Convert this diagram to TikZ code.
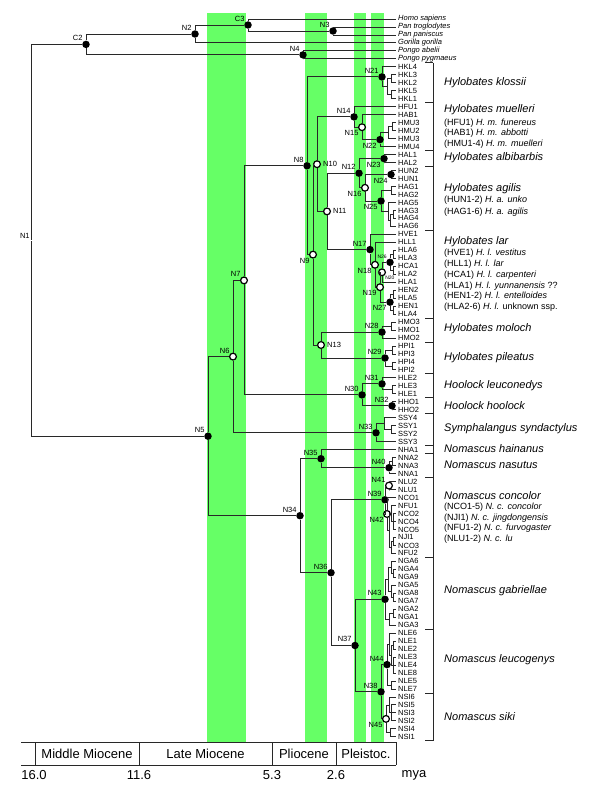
\documentclass[tikz,border=0pt]{standalone}
\usepackage{fontspec}
\setmainfont{Liberation Sans}
\usetikzlibrary{positioning}
\definecolor{epochgreen}{RGB}{102,255,102}
\definecolor{branchgray}{RGB}{40,40,40}

\begin{document}
\begin{tikzpicture}[
  x=1pt, y=-1pt, label distance=0pt,
  branch/.style={draw=branchgray, line width=0.9pt},
  fdot/.style={circle, fill=black, inner sep=0pt, minimum size=7.5pt},
  odot/.style={circle, draw=black, fill=white, line width=1.2pt, inner sep=0pt, minimum size=6.8pt},
  nlab/.style={font=\fontsize{7.5}{7.5}\selectfont, inner sep=0.5pt},
  slab/.style={font=\fontsize{5}{5}\selectfont, inner sep=0.3pt},
  tip/.style={anchor=west, inner sep=2pt, font=\fontsize{7.5}{8}\selectfont},
  ptip/.style={tip, font=\fontsize{7.5}{8}\selectfont\itshape},
  sptext/.style={anchor=west, inner sep=0pt, font=\fontsize{11}{12}\selectfont\itshape},
  ssptext/.style={anchor=west, inner sep=0pt, font=\fontsize{9}{10}\selectfont},
  epoch/.style={font=\fontsize{13}{14}\selectfont}
]
\useasboundingbox (0,0) rectangle (600,800);

\foreach \a/\b in {207/246, 305/327, 354/366, 371/384}
  \fill[epochgreen] (\a,13) rectangle (\b,742);

\foreach \lab [count=\i from 0] in {Homo sapiens, Pan troglodytes, Pan paniscus, Gorilla gorilla, Pongo abelii, Pongo pygmaeus}
  \node[ptip] (t\i) at (396,{19+7.976*\i}) {\lab};
\foreach \lab [count=\i from 6] in {HKL4,HKL3,HKL2,HKL5,HKL1,HFU1,HAB1,HMU3,HMU2,HMU3,HMU4,HAL1,HAL2,HUN2,HUN1,HAG1,HAG2,HAG5,HAG3,HAG4,HAG6,HVE1,HLL1,HLA6,HLA3,HCA1,HLA2,HLA1,HEN2,HLA5,HEN1,HLA4,HMO3,HMO1,HMO2,HPI1,HPI3,HPI4,HPI2,HLE2,HLE3,HLE1,HHO1,HHO2,SSY4,SSY1,SSY2,SSY3,NHA1,NNA2,NNA3,NNA1,NLU2,NLU1,NCO1,NFU1,NCO2,NCO4,NCO5,NJI1,NCO3,NFU2,NGA6,NGA4,NGA9,NGA5,NGA8,NGA7,NGA2,NGA1,NGA3,NLE6,NLE1,NLE2,NLE3,NLE4,NLE8,NLE5,NLE7,NSI6,NSI5,NSI3,NSI2,NSI4,NSI1}
  \node[tip] (t\i) at (396,{19+7.976*\i}) {\lab};

\node[inner sep=0pt, label={[nlab]above left:N1}] (N1) at (31,240.3) {};
\foreach \n/\x/\y in {C2/86/44.4, N2/195/34, C3/248/25, N3/333/31, N4/303/54.9, N5/208/436.2, N8/307/165.8, N21/382/76.9, N14/354/116.9, N12/359/173.2, N17/370/249.6, N28/382/332.1, N29/385/358, N30/362/394.9, N31/382/383.9, N32/392/405.8, N33/376/432.8, N34/300/515.7, N35/321/458.7, N40/389/467.7, N36/331/572.7, N39/385/499.8, N37/355/645.5, N43/385/599.3, N38/381/691.8, N44/387/664.6}
  \node[fdot, label={[nlab]above left:\n}] (\n) at (\x,\y) {};
\foreach \n/\x/\y in {N22/380/139.6, N23/384/158.6, N24/391/174.5, N25/381/201}
  \node[fdot, label={[nlab]below left:\n}] (\n) at (\x,\y) {};
\node[fdot, label={[nlab]below left:N27}] (N27) at (390,302.2) {};
\foreach \n/\x/\y in {N6/233/356.6, N7/244/280.4, N41/389/485.6}
  \node[odot, label={[nlab]above left:\n}] (\n) at (\x,\y) {};
\foreach \n/\x/\y in {N9/313/254.6, N15/362/127.2, N16/365/187.8, N18/375/264.8, N19/380/287.2, N42/387/514, N45/386/718.9}
  \node[odot, label={[nlab]below left:\n}] (\n) at (\x,\y) {};
\foreach \n/\x/\y in {N10/317/164.2, N11/327/211.4, N13/321/345}
  \node[odot, label={[nlab, label distance=1.5pt]right:\n}] (\n) at (\x,\y) {};
\node[fdot, label={[slab]above left:N26}] (N26) at (390,262.3) {};
\node[odot, label={[slab]below right:N20}] (N20) at (382,272.3) {};

\foreach \n/\x/\y in {kl1/387/86.8, kl2/391/78.8, kl3/391/94.8, mu1/388/132.6, mu2/392/126.7, ag1/391/190.5, ag2/388/211.4, ag3/390/220.4, ag4/393/214.4, la1/393/254.3, la2/393/270.3, la3/393/294.2, la4/393/310.1, mo1/391/326.1, pi1/392/350, pi2/392/366, le1/392/389.9, sy1/384/423.8, sy2/391/429.8, na1/392/461.7, co0/389/530.5, co1/391/513.5, co2/391/547.4, co3/393/521.5, co4/393/541.4, ga1/388/579.3, ga2/389/619.2, ga3/391/567.4, ga4/391/591.3, ga5/393/597.3, ga6/393/573.3, ga7/393/613.2, lc1/389/644.2, lc2/391/685, lc3/391/655.1, lc4/393/645.1, lc5/393/665.1, si1/389/705, si2/390/732.9, si3/391/712.9}
  \coordinate (\n) at (\x,\y);

\foreach \p/\c in {N1/C2, N1/N5, C2/N2, C2/N4, N2/C3, N2/t3, C3/t0, C3/N3, N3/t1, N3/t2, N4/t4, N4/t5,
    N5/N6, N5/N34, N6/N7, N6/N33, N7/N8, N7/N30, N8/N21, N8/N9,
    N21/t6, N21/kl1, kl1/kl2, kl1/kl3, kl2/t7, kl2/t8, kl3/t9, kl3/t10,
    N9/N10, N9/N13, N10/N14, N10/N11,
    N14/t11, N14/N15, N15/t12, N15/N22, N22/mu1, N22/t16, mu1/mu2, mu1/t15, mu2/t13, mu2/t14,
    N11/N12, N11/N17, N12/N23, N12/N16, N23/t17, N23/t18, N16/N24, N16/N25, N24/t19, N24/t20,
    N25/ag1, N25/ag2, ag1/t21, ag1/t22, ag2/t23, ag2/ag3, ag3/ag4, ag3/t26, ag4/t24, ag4/t25,
    N17/t27, N17/N18, N18/t28, N18/N19, N19/N20, N19/N27, N20/N26, N20/t33, N26/la1, N26/la2,
    la1/t29, la1/t30, la2/t31, la2/t32, N27/la3, N27/la4, la3/t34, la3/t35, la4/t36, la4/t37,
    N13/N28, N13/N29, N28/mo1, N28/t40, mo1/t38, mo1/t39, N29/pi1, N29/pi2, pi1/t41, pi1/t42, pi2/t43, pi2/t44,
    N30/N31, N30/N32, N31/t45, N31/le1, le1/t46, le1/t47, N32/t48, N32/t49,
    N33/sy1, N33/t53, sy1/t50, sy1/sy2, sy2/t51, sy2/t52,
    N34/N35, N34/N36, N35/t54, N35/N40, N40/na1, N40/t57, na1/t55, na1/t56,
    N36/N39, N36/N37, N39/N41, N39/N42, N41/t58, N41/t59, N42/t60, N42/co0, co0/co1, co0/co2,
    co1/t61, co1/co3, co3/t62, co3/t63, co3/t64, co2/co4, co2/t67, co4/t65, co4/t66,
    N37/N43, N37/N38, N43/ga1, N43/ga2, ga1/ga3, ga1/ga4, ga3/t68, ga3/ga6, ga6/t69, ga6/t70,
    ga4/t71, ga4/ga5, ga5/t72, ga5/t73, ga2/ga7, ga2/t76, ga7/t74, ga7/t75,
    N38/N44, N38/N45, N44/lc1, N44/lc2, lc1/t77, lc1/lc3, lc3/lc4, lc3/lc5, lc4/t78, lc4/t79,
    lc5/t80, lc5/t81, lc5/t82, lc2/t83, lc2/t84,
    N45/si1, N45/si2, si1/t85, si1/si3, si3/t86, si3/t87, si3/t88, si2/t89, si2/t90}
  \draw[branch] (\p) |- (\c);

\draw[branch] (433,62.9) -- (433,740.8);
\foreach \y in {62.9, 102.8, 150.6, 166.6, 230.4, 318.1, 342, 373.9, 397.9, 413.8, 445.7, 453.7, 477.6, 557.4, 629.2, 693, 740.8}
  \draw[branch] (425,\y) -- (433,\y);

\node[sptext] (klossii) at (444,82.5) {Hylobates klossii};
\node[sptext] (muelleri) at (444,109.5) {Hylobates muelleri};
\node[ssptext] (hfu) at (444,122.7) {(HFU1) \textit{H. m. funereus}};
\node[ssptext] (hab) at (444,133.3) {(HAB1) \textit{H. m. abbotti}};
\node[ssptext] (hmu) at (444,143.8) {(HMU1-4) \textit{H. m. muelleri}};
\node[sptext] (albibarbis) at (444,157.5) {Hylobates albibarbis};
\node[sptext] (agilis) at (444,188.5) {Hylobates agilis};
\node[ssptext] (hun) at (444,200.3) {(HUN1-2) \textit{H. a. unko}};
\node[ssptext] (hag) at (444,211.7) {(HAG1-6) \textit{H. a. agilis}};
\node[sptext] (lar) at (444,242) {Hylobates lar};
\node[ssptext] (hve) at (444,253.3) {(HVE1) \textit{H. l. vestitus}};
\node[ssptext] (hll) at (444,264) {(HLL1) \textit{H. l. lar}};
\node[ssptext] (hca) at (444,274.7) {(HCA1) \textit{H. l. carpenteri}};
\node[ssptext] (hla) at (444,285.7) {(HLA1) \textit{H. l. yunnanensis} ??};
\node[ssptext] (hen) at (444,296.3) {(HEN1-2) \textit{H. l. entelloides}};
\node[ssptext] (hlb) at (444,307.3) {(HLA2-6) \textit{H. l.} unknown ssp.};
\node[sptext] (moloch) at (444,328.5) {Hylobates moloch};
\node[sptext] (pileatus) at (444,357.5) {Hylobates pileatus};
\node[sptext] (leuconedys) at (444,386) {Hoolock leuconedys};
\node[sptext] (hoolock) at (444,405.2) {Hoolock hoolock};
\node[sptext] (syndactylus) at (444,428.5) {Symphalangus syndactylus};
\node[sptext] (hainanus) at (444,448.5) {Nomascus hainanus};
\node[sptext] (nasutus) at (444,464.5) {Nomascus nasutus};
\node[sptext] (concolor) at (444,495.2) {Nomascus concolor};
\node[ssptext] (nco) at (444,507.3) {(NCO1-5) \textit{N. c. concolor}};
\node[ssptext] (nji) at (444,517.7) {(NJI1) \textit{N. c. jingdongensis}};
\node[ssptext] (nfu) at (444,528.3) {(NFU1-2) \textit{N. c. furvogaster}};
\node[ssptext] (nlu) at (444,539.3) {(NLU1-2) \textit{N. c. lu}};
\node[sptext] (gabriellae) at (444,591) {Nomascus gabriellae};
\node[sptext] (leucogenys) at (444,659.5) {Nomascus leucogenys};
\node[sptext] (siki) at (444,717) {Nomascus siki};

\draw[branch] (21,742) -- (396,742) (21,765) -- (396,765);
\foreach \x in {35,139,272,336,396}
  \draw[branch] (\x,742) -- (\x,765);
\node[epoch] (midmio) at (87,754) {Middle Miocene};
\node[epoch] (latemio) at (205.5,754) {Late Miocene};
\node[epoch] (plio) at (304,754) {Pliocene};
\node[epoch] (pleist) at (366,754) {Pleistoc.};
\node[epoch] (a16) at (34,775) {16.0};
\node[epoch] (a11) at (139,775) {11.6};
\node[epoch] (a5) at (272,775) {5.3};
\node[epoch] (a2) at (336,775) {2.6};
\node[epoch] (mya) at (414,775) {mya};
\end{tikzpicture}
\end{document}
